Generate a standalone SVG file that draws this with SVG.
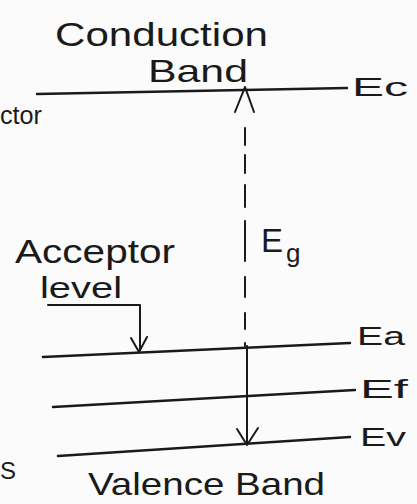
<svg xmlns="http://www.w3.org/2000/svg" width="417" height="504" viewBox="0 0 417 504">
<style>
text{font-family:"Liberation Sans","DejaVu Sans",sans-serif;fill:#1a1a1a}
.lvl{stroke:#1a1a1a;stroke-width:2.5;fill:none;stroke-linecap:round}
.ln{stroke:#1a1a1a;stroke-width:2;fill:none;stroke-linecap:round;stroke-linejoin:round}
</style>
<rect width="417" height="504" fill="#fbfbfb"/>
<g id="conduction-band">
<line class="lvl" x1="37" y1="94" x2="347" y2="88"/>
<text x="55" y="46" font-size="34" textLength="213" lengthAdjust="spacingAndGlyphs">Conduction</text>
<text x="148" y="82" font-size="32" textLength="100" lengthAdjust="spacingAndGlyphs">Band</text>
<text x="352" y="96" font-size="26" textLength="56" lengthAdjust="spacingAndGlyphs">Ec</text>
</g>
<g id="ctor">
<text x="0" y="124" font-size="26" textLength="42" lengthAdjust="spacingAndGlyphs">ctor</text>
</g>
<g id="acceptor-level">
<line class="lvl" x1="43" y1="357" x2="350" y2="343"/>
<text x="15" y="263" font-size="34" textLength="160" lengthAdjust="spacingAndGlyphs">Acceptor</text>
<text x="40" y="298" font-size="30" textLength="82" lengthAdjust="spacingAndGlyphs">level</text>
<text x="357" y="345" font-size="26" textLength="48" lengthAdjust="spacingAndGlyphs">Ea</text>
</g>
<g id="fermi-level">
<line class="lvl" x1="53" y1="407" x2="355" y2="390"/>
<text x="360" y="398" font-size="26" textLength="48" lengthAdjust="spacingAndGlyphs">Ef</text>
</g>
<g id="valence-band">
<line class="lvl" x1="58" y1="456" x2="350" y2="437"/>
<text x="360" y="446" font-size="26" textLength="46" lengthAdjust="spacingAndGlyphs">Ev</text>
<text x="88" y="495" font-size="32" textLength="237" lengthAdjust="spacingAndGlyphs">Valence Band</text>
</g>
<g id="s-mark">
<text x="0" y="479" font-size="24">S</text>
</g>
<g id="connectors">
<line class="ln" x1="245" y1="128" x2="245" y2="346" stroke-dasharray="17,10 18,12 22,14 40,16 20,16 16,14 20,20 200"/>
<line class="ln" x1="247" y1="346" x2="247" y2="444"/>
<path class="ln" d="M235,112 L245,87 L254,112"/>
<path class="ln" d="M237,429 L247,445 L258,428"/>
<g id="eg-label">
<text x="261" y="252" font-size="34" textLength="22" lengthAdjust="spacingAndGlyphs">E</text>
<text x="286" y="262" font-size="26">g</text>
</g>
<path class="ln" d="M48,305 L140,305 L140,350"/>
<path class="ln" d="M131,338 L139,352 L147,337"/>
</g>
</svg>
